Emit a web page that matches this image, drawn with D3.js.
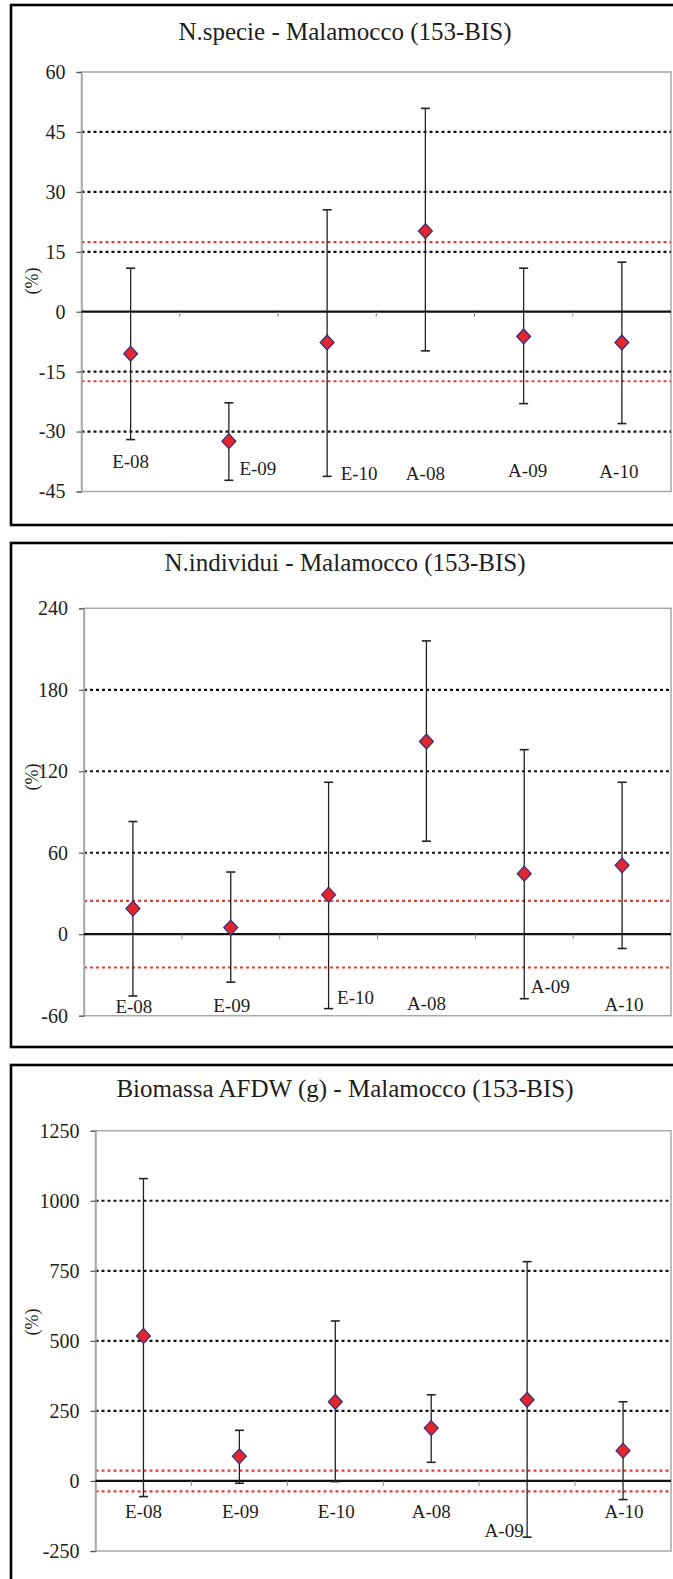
<!DOCTYPE html>
<html>
<head>
<meta charset="utf-8">
<script src="https://cdn.jsdelivr.net/npm/d3@7"></script>
<style>
  html, body { margin: 0; padding: 0; background: #fff; }
  svg { display: block; }
  text { font-family: "Liberation Serif", "DejaVu Serif", serif; fill: #1e1e1e; }
</style>
</head>
<body>
<svg id="chart" width="673" height="1579"></svg>
<script>
// Sampling campaigns (E = estate, A = autunno)
const categories = ["E-08", "E-09", "E-10", "A-08", "A-09", "A-10"];

// N. specie: percentage change, mean and confidence interval
const speciesMean = [-10.5, -32.4, -7.7, 20.2, -6.2, -7.7];
const speciesLow  = [-32.0, -42.2, -41.2, -9.8, -23.0, -28.0];
const speciesHigh = [10.9, -22.8, 25.5, 50.9, 10.9, 12.4];
const speciesTicks = [-45, -30, -15, 0, 15, 30, 45, 60];
const speciesThreshold = 17.4;

// N. individui
const individualsMean = [18.9, 4.9, 29.1, 141.9, 44.6, 50.7];
const individualsLow  = [-45.5, -35.3, -54.8, 68.5, -47.5, -10.5];
const individualsHigh = [83.0, 45.8, 111.9, 216.0, 135.9, 111.9];
const individualsTicks = [-60, 0, 60, 120, 180, 240];
const individualsThreshold = 24.5;

// Biomassa AFDW (g)
const biomassMean = [517.7, 88.0, 282.6, 188.8, 289.7, 108.0];
const biomassLow  = [-55.8, -8.3, -2.5, 66.5, -200.6, -66.5];
const biomassHigh = [1079.0, 180.6, 571.0, 307.5, 782.6, 282.6];
const biomassTicks = [-250, 0, 250, 500, 750, 1000, 1250];
const biomassThreshold = 37;

const titles = [
  "N.specie - Malamocco (153-BIS)",
  "N.individui - Malamocco (153-BIS)",
  "Biomassa AFDW (g) - Malamocco (153-BIS)"
];

// Panel geometry and hand-placed category labels (label value = baseline in data units)
const panels = [
  {
    title: titles[0], mean: speciesMean, low: speciesLow, high: speciesHigh,
    ticks: speciesTicks, threshold: speciesThreshold,
    frameTop: 5, frameBottom: 525,
    left: 81.5, right: 671, top: 72, bottom: 491.5,
    titleY: 40, yTitleY: 281,
    labelAt: [-39.1, -40.9, -42.1, -42.1, -41.3, -41.6],
    labelDx: [0, 29, 32, 0, 4, -3]
  },
  {
    title: titles[1], mean: individualsMean, low: individualsLow, high: individualsHigh,
    ticks: individualsTicks, threshold: individualsThreshold,
    frameTop: 543, frameBottom: 1047,
    left: 84, right: 671, top: 608.3, bottom: 1015.7,
    titleY: 570.5, yTitleY: 777,
    labelAt: [-57.8, -57.3, -51.4, -55.8, -43.3, -56.3],
    labelDx: [1, 1, 27, 0, 26, 2]
  },
  {
    title: titles[2], mean: biomassMean, low: biomassLow, high: biomassHigh,
    ticks: biomassTicks, threshold: biomassThreshold,
    frameTop: 1065, frameBottom: 1700,
    left: 95.5, right: 671, top: 1130.7, bottom: 1551,
    titleY: 1096.5, yTitleY: 1322,
    labelAt: [-132, -132, -132, -132, -199, -132],
    labelDx: [0, 1, 1, 0, -23, 1]
  }
];

const svg = d3.select("#chart");
// plain hyphen for negative tick values
const fmt = d => String(d);

panels.forEach(p => {
  const g = svg.append("g");

  // outer frame (runs off the right edge)
  g.append("rect")
    .attr("x", 11).attr("y", p.frameTop)
    .attr("width", 720).attr("height", p.frameBottom - p.frameTop)
    .attr("fill", "#fff").attr("stroke", "#000").attr("stroke-width", 2.6);

  const x = d3.scaleBand().domain(categories).range([p.left, p.right]);
  const y = d3.scaleLinear()
    .domain([d3.min(p.ticks), d3.max(p.ticks)])
    .range([p.bottom, p.top]);

  // title
  g.append("text")
    .attr("x", 345).attr("y", p.titleY)
    .attr("text-anchor", "middle")
    .style("font-size", "25px")
    .text(p.title);

  // y-axis title
  g.append("text")
    .attr("transform", `translate(38,${p.yTitleY}) rotate(-90)`)
    .attr("text-anchor", "middle")
    .style("font-size", "18px")
    .text("(%)");

  // plot area border
  g.append("rect")
    .attr("x", p.left).attr("y", p.top)
    .attr("width", p.right - p.left).attr("height", p.bottom - p.top)
    .attr("fill", "none").attr("stroke", "#a8a8a8").attr("stroke-width", 1.5);

  // dotted gridlines at inner non-zero ticks
  const inner = p.ticks.filter(t => t !== 0 && t !== d3.min(p.ticks) && t !== d3.max(p.ticks));
  g.selectAll(".grid").data(inner).join("line")
    .attr("x1", p.left).attr("x2", p.right)
    .attr("y1", d => y(d)).attr("y2", d => y(d))
    .attr("stroke", "#111").attr("stroke-width", 2.2)
    .attr("stroke-dasharray", "3,3");

  // red threshold lines
  g.selectAll(".thr").data([p.threshold, -p.threshold]).join("line")
    .attr("x1", p.left).attr("x2", p.right)
    .attr("y1", d => y(d)).attr("y2", d => y(d))
    .attr("stroke", "#e0403a").attr("stroke-width", 2.2)
    .attr("stroke-dasharray", "3,3");

  // y axis
  const yAxis = d3.axisLeft(y).tickValues(p.ticks).tickSize(5).tickPadding(11)
    .tickFormat(fmt);
  const ya = g.append("g").attr("transform", `translate(${p.left},0)`).call(yAxis);
  ya.select(".domain").attr("stroke", "#a8a8a8").attr("stroke-width", 1.5);
  ya.selectAll(".tick line").attr("stroke", "#555").attr("stroke-width", 1.2);
  ya.selectAll(".tick text")
    .style("font-family", "'Liberation Serif', serif")
    .style("font-size", "20px").style("fill", "#1e1e1e");

  // zero line with category boundary ticks
  g.append("line")
    .attr("x1", p.left).attr("x2", p.right)
    .attr("y1", y(0)).attr("y2", y(0))
    .attr("stroke", "#111").attr("stroke-width", 2.2);
  const bounds = categories.slice(1).map(c => x(c));
  g.selectAll(".ctick").data(bounds).join("line")
    .attr("x1", d => d).attr("x2", d => d)
    .attr("y1", y(0)).attr("y2", y(0) + 5)
    .attr("stroke", "#888").attr("stroke-width", 1);

  const cx = c => x(c) + x.bandwidth() / 2;

  // error bars
  const eb = g.selectAll(".eb").data(categories).join("g");
  eb.append("line")
    .attr("x1", c => cx(c)).attr("x2", c => cx(c))
    .attr("y1", (c, i) => y(p.low[i])).attr("y2", (c, i) => y(p.high[i]))
    .attr("stroke", "#222").attr("stroke-width", 1.3);
  eb.append("line")
    .attr("x1", c => cx(c) - 4.5).attr("x2", c => cx(c) + 4.5)
    .attr("y1", (c, i) => y(p.high[i])).attr("y2", (c, i) => y(p.high[i]))
    .attr("stroke", "#222").attr("stroke-width", 1.6);
  eb.append("line")
    .attr("x1", c => cx(c) - 4.5).attr("x2", c => cx(c) + 4.5)
    .attr("y1", (c, i) => y(p.low[i])).attr("y2", (c, i) => y(p.low[i]))
    .attr("stroke", "#222").attr("stroke-width", 1.6);

  // diamond markers
  g.selectAll(".pt").data(categories).join("path")
    .attr("d", "M0,-7.5 L7,0 L0,7.5 L-7,0 Z")
    .attr("transform", (c, i) => `translate(${cx(c)},${y(p.mean[i])})`)
    .attr("fill", "#e1262d").attr("stroke", "#3a2c78").attr("stroke-width", 1.2);

  // category labels
  g.selectAll(".cl").data(categories).join("text")
    .attr("x", (c, i) => cx(c) + p.labelDx[i])
    .attr("y", (c, i) => y(p.labelAt[i]))
    .attr("text-anchor", "middle")
    .style("font-size", "19px")
    .text(c => c);
});
</script>
</body>
</html>
